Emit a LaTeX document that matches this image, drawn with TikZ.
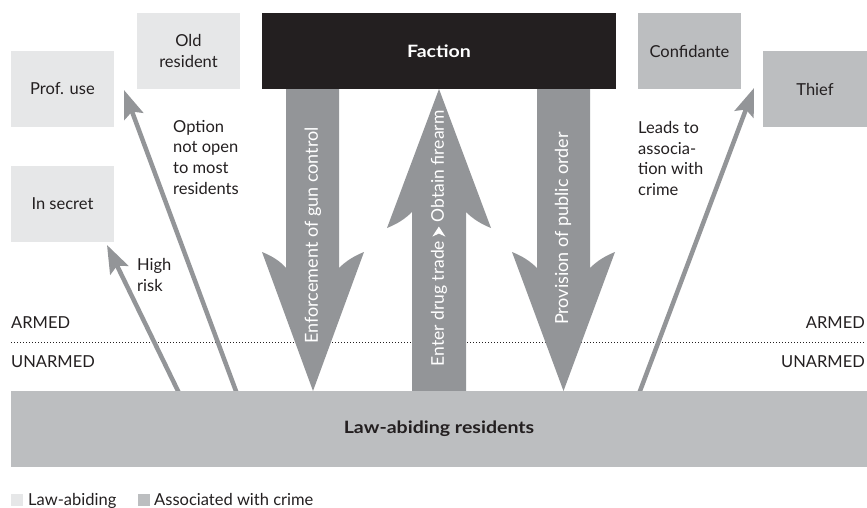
\documentclass[tikz,border=0pt]{standalone}
\usepackage{fontspec}
\setmainfont{Lato}
\usepackage{graphicx}
\usetikzlibrary{arrows.meta}
\definecolor{lightbox}{HTML}{E6E7E8}
\definecolor{darkbox}{HTML}{BCBEC0}
\definecolor{arrowgray}{HTML}{939598}
\definecolor{ink}{HTML}{231F20}
\newcommand{\txtfont}{\fontsize{16.5}{20.7}\selectfont}
\newcommand{\arrfont}{\fontsize{18}{20}\selectfont}
\newcommand{\chev}{\tikz[x=1pt,y=1pt,baseline=-5pt]\fill[white] (6,0) -- (-4,6.5) -- (-1,0) -- (-4,-6.5) -- cycle;}
\begin{document}
\begin{tikzpicture}[x=1pt,y=-1pt,
  box/.style={minimum width=103pt, minimum height=76pt, inner sep=0pt, font=\txtfont, text=ink, align=center},
  lawbox/.style={box, fill=lightbox},
  crimebox/.style={box, fill=darkbox},
  lbl/.style={anchor=north west, inner sep=0pt, align=left, font=\txtfont, text=ink},
  side/.style={inner sep=0pt, font=\txtfont, text=ink},
  bigarrow/.style={fill=arrowgray},
  arrtext/.style={rotate=90, inner sep=0pt, font=\arrfont, text=white},
  thinarrow/.style={draw=arrowgray, line width=4.5pt, -{Stealth[length=28pt,width=20pt,inset=5pt]}},
  legsq/.style={minimum width=12pt, minimum height=12pt, inner sep=0pt}]
\useasboundingbox (0,0) rectangle (867,508);

% armed / unarmed divider
\draw[ink, line width=0.8pt, dash pattern=on 0.8pt off 2.2pt] (11,342) -- (865,342);
\node[side, anchor=base west] (armedL) at (11,328) {ARMED};
\node[side, anchor=base west] (unarmedL) at (11,367) {UNARMED};
\node[side, anchor=base east] (armedR) at (865,328) {ARMED};
\node[side, anchor=base east] (unarmedR) at (865,367) {UNARMED};

% thin arrows
\coordinate (s1) at (182.4,400);
\coordinate (t1) at (107,245);
\coordinate (s2) at (239.3,400);
\coordinate (t2) at (124,90);
\coordinate (s3) at (636.6,400);
\coordinate (t3) at (754,88);
\draw[thinarrow] (s1) -- (t1);
\draw[thinarrow] (s2) -- (t2);
\draw[thinarrow] (s3) -- (t3);

% big arrows
\fill[bigarrow] (286,89) -- (339,89) -- (339,268) .. controls (346,261) and (354,256) .. (364,252)
  -- (313,391) -- (262,252) .. controls (272,256) and (280,261) .. (286,268) -- cycle;
\fill[bigarrow] (412,395) -- (412,212) .. controls (405,219) and (397,224) .. (387,228)
  -- (439,89) -- (491,228) .. controls (481,224) and (473,219) .. (466,212) -- (466,395) -- cycle;
\fill[bigarrow] (537,89) -- (590,89) -- (590,268) .. controls (597,261) and (605,256) .. (615,252)
  -- (563.5,391) -- (512,252) .. controls (522,256) and (530,261) .. (537,268) -- cycle;

\node[arrtext] (enf) at (313,235.5) {Enforcement of gun control};
\node[arrtext, font=\fontsize{17.5}{20}\selectfont] (drug) at (439,238.5) {Enter drug trade\hspace{0.25em}\chev\hspace{0.25em}Obtain firearm};
\node[arrtext] (prov) at (563,228.5) {Provision of public order};

% boxes
\node[lawbox] (old) at (188.5,51) {Old\\resident};
\node[lawbox] (prof) at (62.5,89) {Prof. use};
\node[lawbox] (secret) at (62.5,203.5) {In secret};
\node[crimebox] (conf) at (689.5,51) {Confidante};
\node[crimebox, minimum width=104pt] (thief) at (815,89) {Thief};
\node[box, fill=ink, minimum width=354pt, text=white] (faction) at (439,51)
  {\scalebox{1.15}[1]{\fontsize{17}{20}\selectfont\bfseries Faction}};
\node[box, fill=darkbox, minimum width=856pt] (res) at (439,429)
  {\scalebox{1.15}[1]{\fontsize{17}{20}\selectfont\bfseries Law-abiding residents}};

% labels
\node[lbl] (opt) at (173,120) {Option\\not open\\to most\\residents};
\node[lbl] (risk) at (137,258) {High\\risk};
\node[lbl] (leads) at (638,121) {Leads to\\associa-\\tion with\\crime};

% legend
\node[legsq, fill=lightbox, anchor=north west] (leg1) at (11,494) {};
\node[side, anchor=base west] (leg1t) at (28,505) {Law-abiding};
\node[legsq, fill=darkbox, anchor=north west] (leg2) at (138,494) {};
\node[side, anchor=base west] (leg2t) at (154,505) {Associated with crime};
\end{tikzpicture}
\end{document}
